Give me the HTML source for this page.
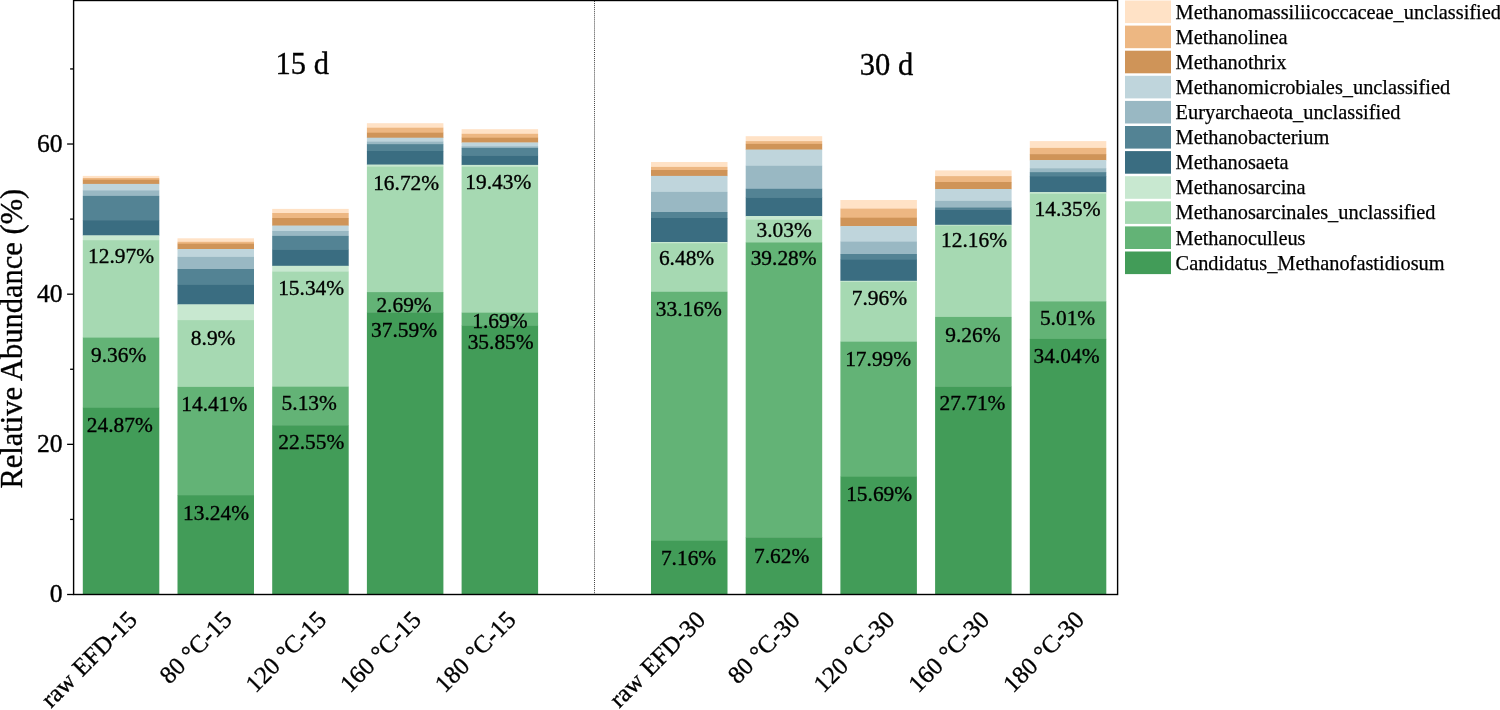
<!DOCTYPE html><html><head><meta charset="utf-8"><title>Relative Abundance</title>
<style>html,body{margin:0;padding:0;background:#fff}body{width:1500px;height:710px;overflow:hidden}svg{display:block}text{font-family:"Liberation Serif",serif;fill:#000;stroke:#000;stroke-width:0.35px}</style></head><body>
<svg width="1500" height="710" viewBox="0 0 1500 710">
<rect x="0" y="0" width="1500" height="710" fill="#fff"/>
<g>
<rect x="82.80" y="175.90" width="76.5" height="2.40" fill="#FFE2C6"/>
<rect x="82.80" y="178.00" width="76.5" height="2.00" fill="#EDB782"/>
<rect x="82.80" y="179.70" width="76.5" height="4.50" fill="#CF9458"/>
<rect x="82.80" y="183.90" width="76.5" height="6.70" fill="#BFD5DC"/>
<rect x="82.80" y="190.30" width="76.5" height="5.90" fill="#99B8C3"/>
<rect x="82.80" y="195.90" width="76.5" height="24.50" fill="#538394"/>
<rect x="82.80" y="220.10" width="76.5" height="15.60" fill="#3A6D81"/>
<rect x="82.80" y="235.40" width="76.5" height="5.02" fill="#C8E8D0"/>
<rect x="82.80" y="240.12" width="76.5" height="97.68" fill="#A6D9B2"/>
<rect x="82.80" y="337.50" width="76.5" height="70.57" fill="#63B376"/>
<rect x="82.80" y="407.78" width="76.5" height="187.02" fill="#429C58"/>
</g>
<text x="119.75" y="431.98" font-size="21.4" text-anchor="middle">24.87%</text>
<text x="118.65" y="361.70" font-size="21.4" text-anchor="middle">9.36%</text>
<text x="121.05" y="263.12" font-size="21.4" text-anchor="middle">12.97%</text>
<g>
<rect x="177.50" y="238.30" width="76.5" height="3.80" fill="#FFE2C6"/>
<rect x="177.50" y="241.80" width="76.5" height="2.20" fill="#EDB782"/>
<rect x="177.50" y="243.70" width="76.5" height="5.60" fill="#CF9458"/>
<rect x="177.50" y="249.00" width="76.5" height="8.20" fill="#BFD5DC"/>
<rect x="177.50" y="256.90" width="76.5" height="12.40" fill="#99B8C3"/>
<rect x="177.50" y="269.00" width="76.5" height="16.20" fill="#538394"/>
<rect x="177.50" y="284.90" width="76.5" height="19.80" fill="#3A6D81"/>
<rect x="177.50" y="304.40" width="76.5" height="15.98" fill="#C8E8D0"/>
<rect x="177.50" y="320.08" width="76.5" height="67.12" fill="#A6D9B2"/>
<rect x="177.50" y="386.90" width="76.5" height="108.49" fill="#63B376"/>
<rect x="177.50" y="495.09" width="76.5" height="99.71" fill="#429C58"/>
</g>
<text x="216.05" y="520.29" font-size="21.4" text-anchor="middle">13.24%</text>
<text x="214.25" y="410.80" font-size="21.4" text-anchor="middle">14.41%</text>
<text x="213.15" y="344.58" font-size="21.4" text-anchor="middle">8.9%</text>
<g>
<rect x="272.20" y="208.90" width="76.5" height="4.40" fill="#FFE2C6"/>
<rect x="272.20" y="213.00" width="76.5" height="5.30" fill="#EDB782"/>
<rect x="272.20" y="218.00" width="76.5" height="7.90" fill="#CF9458"/>
<rect x="272.20" y="225.60" width="76.5" height="5.70" fill="#BFD5DC"/>
<rect x="272.20" y="231.00" width="76.5" height="5.20" fill="#99B8C3"/>
<rect x="272.20" y="235.90" width="76.5" height="14.00" fill="#538394"/>
<rect x="272.20" y="249.60" width="76.5" height="16.50" fill="#3A6D81"/>
<rect x="272.20" y="265.80" width="76.5" height="6.01" fill="#C8E8D0"/>
<rect x="272.20" y="271.51" width="76.5" height="115.47" fill="#A6D9B2"/>
<rect x="272.20" y="386.68" width="76.5" height="38.82" fill="#63B376"/>
<rect x="272.20" y="425.19" width="76.5" height="169.61" fill="#429C58"/>
</g>
<text x="311.25" y="449.39" font-size="21.4" text-anchor="middle">22.55%</text>
<text x="309.25" y="410.38" font-size="21.4" text-anchor="middle">5.13%</text>
<text x="311.15" y="294.51" font-size="21.4" text-anchor="middle">15.34%</text>
<g>
<rect x="366.90" y="123.20" width="76.5" height="4.80" fill="#FFE2C6"/>
<rect x="366.90" y="127.70" width="76.5" height="5.30" fill="#EDB782"/>
<rect x="366.90" y="132.70" width="76.5" height="5.30" fill="#CF9458"/>
<rect x="366.90" y="137.70" width="76.5" height="4.10" fill="#BFD5DC"/>
<rect x="366.90" y="141.50" width="76.5" height="2.90" fill="#99B8C3"/>
<rect x="366.90" y="144.10" width="76.5" height="7.20" fill="#538394"/>
<rect x="366.90" y="151.00" width="76.5" height="13.90" fill="#3A6D81"/>
<rect x="366.90" y="164.60" width="76.5" height="2.24" fill="#C8E8D0"/>
<rect x="366.90" y="166.54" width="76.5" height="125.83" fill="#A6D9B2"/>
<rect x="366.90" y="292.08" width="76.5" height="20.50" fill="#63B376"/>
<rect x="366.90" y="312.27" width="76.5" height="282.53" fill="#429C58"/>
</g>
<text x="404.05" y="336.77" font-size="21.4" text-anchor="middle">37.59%</text>
<text x="404.05" y="311.80" font-size="21.4" text-anchor="middle">2.69%</text>
<text x="406.15" y="189.54" font-size="21.4" text-anchor="middle">16.72%</text>
<g>
<rect x="461.60" y="129.20" width="76.5" height="4.90" fill="#FFE2C6"/>
<rect x="461.60" y="133.80" width="76.5" height="4.20" fill="#EDB782"/>
<rect x="461.60" y="137.70" width="76.5" height="5.10" fill="#CF9458"/>
<rect x="461.60" y="142.50" width="76.5" height="4.00" fill="#BFD5DC"/>
<rect x="461.60" y="146.20" width="76.5" height="2.00" fill="#99B8C3"/>
<rect x="461.60" y="147.90" width="76.5" height="8.00" fill="#538394"/>
<rect x="461.60" y="155.60" width="76.5" height="9.60" fill="#3A6D81"/>
<rect x="461.60" y="164.90" width="76.5" height="2.17" fill="#C8E8D0"/>
<rect x="461.60" y="166.77" width="76.5" height="146.18" fill="#A6D9B2"/>
<rect x="461.60" y="312.65" width="76.5" height="12.99" fill="#63B376"/>
<rect x="461.60" y="325.34" width="76.5" height="269.46" fill="#429C58"/>
</g>
<text x="500.65" y="349.24" font-size="21.4" text-anchor="middle">35.85%</text>
<text x="499.85" y="328.20" font-size="21.4" text-anchor="middle">1.69%</text>
<text x="498.35" y="188.57" font-size="21.4" text-anchor="middle">19.43%</text>
<g>
<rect x="651.00" y="162.00" width="76.5" height="5.20" fill="#FFE2C6"/>
<rect x="651.00" y="166.90" width="76.5" height="3.40" fill="#EDB782"/>
<rect x="651.00" y="170.00" width="76.5" height="6.20" fill="#CF9458"/>
<rect x="651.00" y="175.90" width="76.5" height="16.30" fill="#BFD5DC"/>
<rect x="651.00" y="191.90" width="76.5" height="20.40" fill="#99B8C3"/>
<rect x="651.00" y="212.00" width="76.5" height="6.30" fill="#538394"/>
<rect x="651.00" y="218.00" width="76.5" height="24.30" fill="#3A6D81"/>
<rect x="651.00" y="242.00" width="76.5" height="1.43" fill="#C8E8D0"/>
<rect x="651.00" y="243.13" width="76.5" height="48.95" fill="#A6D9B2"/>
<rect x="651.00" y="291.78" width="76.5" height="249.27" fill="#63B376"/>
<rect x="651.00" y="540.74" width="76.5" height="54.06" fill="#429C58"/>
</g>
<text x="688.55" y="564.94" font-size="21.4" text-anchor="middle">7.16%</text>
<text x="688.75" y="316.48" font-size="21.4" text-anchor="middle">33.16%</text>
<text x="686.55" y="264.93" font-size="21.4" text-anchor="middle">6.48%</text>
<g>
<rect x="745.70" y="136.20" width="76.5" height="5.20" fill="#FFE2C6"/>
<rect x="745.70" y="141.10" width="76.5" height="3.10" fill="#EDB782"/>
<rect x="745.70" y="143.90" width="76.5" height="6.00" fill="#CF9458"/>
<rect x="745.70" y="149.60" width="76.5" height="16.50" fill="#BFD5DC"/>
<rect x="745.70" y="165.80" width="76.5" height="23.30" fill="#99B8C3"/>
<rect x="745.70" y="188.80" width="76.5" height="9.10" fill="#538394"/>
<rect x="745.70" y="197.60" width="76.5" height="18.70" fill="#3A6D81"/>
<rect x="745.70" y="216.00" width="76.5" height="3.93" fill="#C8E8D0"/>
<rect x="745.70" y="219.63" width="76.5" height="23.05" fill="#A6D9B2"/>
<rect x="745.70" y="242.37" width="76.5" height="295.21" fill="#63B376"/>
<rect x="745.70" y="537.29" width="76.5" height="57.51" fill="#429C58"/>
</g>
<text x="781.65" y="562.69" font-size="21.4" text-anchor="middle">7.62%</text>
<text x="783.65" y="265.27" font-size="21.4" text-anchor="middle">39.28%</text>
<text x="784.15" y="237.00" font-size="21.4" text-anchor="middle">3.03%</text>
<g>
<rect x="840.40" y="200.00" width="76.5" height="8.90" fill="#FFE2C6"/>
<rect x="840.40" y="208.60" width="76.5" height="9.40" fill="#EDB782"/>
<rect x="840.40" y="217.70" width="76.5" height="8.70" fill="#CF9458"/>
<rect x="840.40" y="226.10" width="76.5" height="15.70" fill="#BFD5DC"/>
<rect x="840.40" y="241.50" width="76.5" height="12.80" fill="#99B8C3"/>
<rect x="840.40" y="254.00" width="76.5" height="6.00" fill="#538394"/>
<rect x="840.40" y="259.70" width="76.5" height="21.40" fill="#3A6D81"/>
<rect x="840.40" y="280.80" width="76.5" height="1.37" fill="#C8E8D0"/>
<rect x="840.40" y="281.87" width="76.5" height="60.06" fill="#A6D9B2"/>
<rect x="840.40" y="341.63" width="76.5" height="135.37" fill="#63B376"/>
<rect x="840.40" y="476.70" width="76.5" height="118.10" fill="#429C58"/>
</g>
<text x="879.15" y="500.90" font-size="21.4" text-anchor="middle">15.69%</text>
<text x="878.15" y="365.83" font-size="21.4" text-anchor="middle">17.99%</text>
<text x="879.35" y="304.87" font-size="21.4" text-anchor="middle">7.96%</text>
<g>
<rect x="935.10" y="170.40" width="76.5" height="6.00" fill="#FFE2C6"/>
<rect x="935.10" y="176.10" width="76.5" height="6.20" fill="#EDB782"/>
<rect x="935.10" y="182.00" width="76.5" height="7.30" fill="#CF9458"/>
<rect x="935.10" y="189.00" width="76.5" height="12.20" fill="#BFD5DC"/>
<rect x="935.10" y="200.90" width="76.5" height="6.80" fill="#99B8C3"/>
<rect x="935.10" y="207.40" width="76.5" height="2.40" fill="#538394"/>
<rect x="935.10" y="209.50" width="76.5" height="15.60" fill="#3A6D81"/>
<rect x="935.10" y="224.80" width="76.5" height="1.13" fill="#C8E8D0"/>
<rect x="935.10" y="225.63" width="76.5" height="91.60" fill="#A6D9B2"/>
<rect x="935.10" y="316.93" width="76.5" height="69.82" fill="#63B376"/>
<rect x="935.10" y="386.45" width="76.5" height="208.35" fill="#429C58"/>
</g>
<text x="972.45" y="410.15" font-size="21.4" text-anchor="middle">27.71%</text>
<text x="972.85" y="341.63" font-size="21.4" text-anchor="middle">9.26%</text>
<text x="974.05" y="247.33" font-size="21.4" text-anchor="middle">12.16%</text>
<g>
<rect x="1029.80" y="141.10" width="76.5" height="7.10" fill="#FFE2C6"/>
<rect x="1029.80" y="147.90" width="76.5" height="6.50" fill="#EDB782"/>
<rect x="1029.80" y="154.10" width="76.5" height="6.30" fill="#CF9458"/>
<rect x="1029.80" y="160.10" width="76.5" height="8.40" fill="#BFD5DC"/>
<rect x="1029.80" y="168.20" width="76.5" height="4.20" fill="#99B8C3"/>
<rect x="1029.80" y="172.10" width="76.5" height="4.30" fill="#538394"/>
<rect x="1029.80" y="176.10" width="76.5" height="16.30" fill="#3A6D81"/>
<rect x="1029.80" y="192.10" width="76.5" height="1.77" fill="#C8E8D0"/>
<rect x="1029.80" y="193.57" width="76.5" height="108.04" fill="#A6D9B2"/>
<rect x="1029.80" y="301.31" width="76.5" height="37.92" fill="#63B376"/>
<rect x="1029.80" y="338.93" width="76.5" height="255.87" fill="#429C58"/>
</g>
<text x="1066.55" y="363.13" font-size="21.4" text-anchor="middle">34.04%</text>
<text x="1067.55" y="324.71" font-size="21.4" text-anchor="middle">5.01%</text>
<text x="1067.55" y="215.87" font-size="21.4" text-anchor="middle">14.35%</text>
<line x1="594.5" y1="-1" x2="594.5" y2="594" stroke="#444" stroke-width="1" stroke-dasharray="1.01925 1.01925"/>
<rect x="73.6" y="0.5" width="1044" height="594" fill="none" stroke="#000" stroke-width="1.4"/>
<line x1="67.1" y1="594.50" x2="73.6" y2="594.50" stroke="#000" stroke-width="1.3"/>
<text x="62.5" y="602.30" font-size="25.6" text-anchor="end">0</text>
<line x1="70.1" y1="519.42" x2="73.6" y2="519.42" stroke="#000" stroke-width="1.3"/>
<line x1="67.1" y1="444.34" x2="73.6" y2="444.34" stroke="#000" stroke-width="1.3"/>
<text x="62.5" y="452.14" font-size="25.6" text-anchor="end">20</text>
<line x1="70.1" y1="369.26" x2="73.6" y2="369.26" stroke="#000" stroke-width="1.3"/>
<line x1="67.1" y1="294.18" x2="73.6" y2="294.18" stroke="#000" stroke-width="1.3"/>
<text x="62.5" y="301.98" font-size="25.6" text-anchor="end">40</text>
<line x1="70.1" y1="219.10" x2="73.6" y2="219.10" stroke="#000" stroke-width="1.3"/>
<line x1="67.1" y1="144.02" x2="73.6" y2="144.02" stroke="#000" stroke-width="1.3"/>
<text x="62.5" y="151.82" font-size="25.6" text-anchor="end">60</text>
<line x1="70.1" y1="68.94" x2="73.6" y2="68.94" stroke="#000" stroke-width="1.3"/>
<text transform="translate(21.6,488.6) rotate(-90)" font-size="30.5">Relative Abundance (%)</text>
<text x="275.5" y="73.9" font-size="30.5">15 d</text>
<text x="859.8" y="75" font-size="30.5">30 d</text>
<text transform="translate(138.45,621.20) rotate(-45)" font-size="24.7" text-anchor="end" word-spacing="1">raw EFD-15</text>
<text transform="translate(233.15,621.20) rotate(-45)" font-size="24.7" text-anchor="end">80 °C-15</text>
<text transform="translate(327.85,621.20) rotate(-45)" font-size="24.7" text-anchor="end">120 °C-15</text>
<text transform="translate(422.55,621.20) rotate(-45)" font-size="24.7" text-anchor="end">160 °C-15</text>
<text transform="translate(517.25,621.20) rotate(-45)" font-size="24.7" text-anchor="end">180 °C-15</text>
<text transform="translate(706.65,621.20) rotate(-45)" font-size="24.7" text-anchor="end" word-spacing="1">raw EFD-30</text>
<text transform="translate(801.35,621.20) rotate(-45)" font-size="24.7" text-anchor="end">80 °C-30</text>
<text transform="translate(896.05,621.20) rotate(-45)" font-size="24.7" text-anchor="end">120 °C-30</text>
<text transform="translate(990.75,621.20) rotate(-45)" font-size="24.7" text-anchor="end">160 °C-30</text>
<text transform="translate(1085.45,621.20) rotate(-45)" font-size="24.7" text-anchor="end">180 °C-30</text>
<rect x="1125" y="0.50" width="46" height="22.6" fill="#FFE2C6"/>
<text x="1175.6" y="18.60" font-size="20.35" style="stroke-width:0.25px">Methanomassiliicoccaceae_unclassified</text>
<rect x="1125" y="25.60" width="46" height="22.6" fill="#EDB782"/>
<text x="1175.6" y="43.70" font-size="20.35" style="stroke-width:0.25px">Methanolinea</text>
<rect x="1125" y="50.70" width="46" height="22.6" fill="#CF9458"/>
<text x="1175.6" y="68.80" font-size="20.35" style="stroke-width:0.25px">Methanothrix</text>
<rect x="1125" y="75.80" width="46" height="22.6" fill="#BFD5DC"/>
<text x="1175.6" y="93.90" font-size="20.35" style="stroke-width:0.25px">Methanomicrobiales_unclassified</text>
<rect x="1125" y="100.90" width="46" height="22.6" fill="#99B8C3"/>
<text x="1175.6" y="119.00" font-size="20.35" style="stroke-width:0.25px">Euryarchaeota_unclassified</text>
<rect x="1125" y="126.00" width="46" height="22.6" fill="#538394"/>
<text x="1175.6" y="144.10" font-size="20.35" style="stroke-width:0.25px">Methanobacterium</text>
<rect x="1125" y="151.10" width="46" height="22.6" fill="#3A6D81"/>
<text x="1175.6" y="169.20" font-size="20.35" style="stroke-width:0.25px">Methanosaeta</text>
<rect x="1125" y="176.20" width="46" height="22.6" fill="#C8E8D0"/>
<text x="1175.6" y="194.30" font-size="20.35" style="stroke-width:0.25px">Methanosarcina</text>
<rect x="1125" y="201.30" width="46" height="22.6" fill="#A6D9B2"/>
<text x="1175.6" y="219.40" font-size="20.35" style="stroke-width:0.25px">Methanosarcinales_unclassified</text>
<rect x="1125" y="226.40" width="46" height="22.6" fill="#63B376"/>
<text x="1175.6" y="244.50" font-size="20.35" style="stroke-width:0.25px">Methanoculleus</text>
<rect x="1125" y="251.50" width="46" height="22.6" fill="#429C58"/>
<text x="1175.6" y="269.60" font-size="20.35" style="stroke-width:0.25px">Candidatus_Methanofastidiosum</text>
</svg></body></html>
